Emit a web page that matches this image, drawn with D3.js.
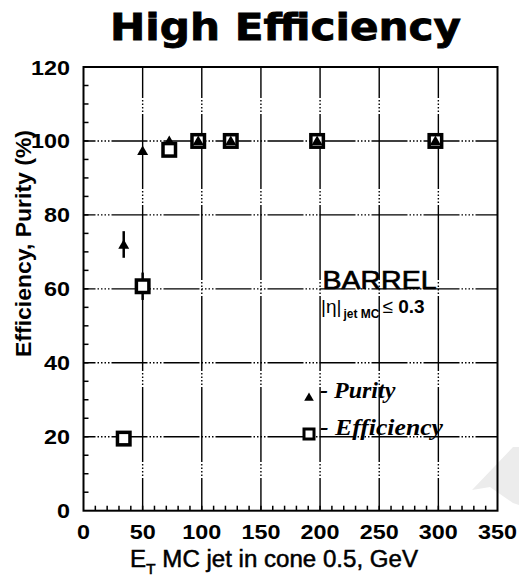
<!DOCTYPE html>
<html>
<head>
<meta charset="utf-8">
<script src="https://cdn.jsdelivr.net/npm/d3@7"></script>
<style>
  body { margin: 0; background: #fff; }
  svg { display: block; }
</style>
</head>
<body>
<svg id="chart" width="519" height="576"></svg>
<script>
// values
var energy = [34, 50, 72.5, 97, 124.5, 197.5, 297.5];
var purity = [72, 97.3, 100, 100, 100, 100, 100];
var purityErr = [3.6, 0, 0, 0, 0, 0, 0];
var efficiency = [19.5, 60.7, 97.6, 100, 100, 100, 100];
var efficiencyErr = [0, 3.7, 0, 0, 0, 0, 0];
var xTicks = [0, 50, 100, 150, 200, 250, 300, 350];
var yTicks = [0, 20, 40, 60, 80, 100, 120];

var svg = d3.select('#chart');
var x = d3.scaleLinear().domain([0, 350]).range([83.5, 497.5]);
var y = d3.scaleLinear().domain([0, 120]).range([510.7, 67]);

// faint watermark in the corner
svg.append('polygon')
  .attr('points', '472,490 513,447 519,447 519,505 513,503 490,487 478,489')
  .attr('fill', '#ececec');

// grid
var grid = svg.append('g').attr('stroke', '#000').attr('stroke-width', 1.4).attr('fill', 'none');
grid.selectAll('.hgrid').data(yTicks.filter(d => d > 0 && d < 120))
  .enter().append('line')
    .attr('x1', x(0)).attr('x2', x(350))
    .attr('y1', d => y(d)).attr('y2', d => y(d))
    .attr('stroke-dasharray', '36,2,1.5,2,1.5,2,1.5,2,1.5,2')
    .attr('stroke-dashoffset', 24);
grid.selectAll('.vgrid').data(xTicks.filter(d => d > 0 && d < 350))
  .enter().append('line')
    .attr('x1', d => x(d)).attr('x2', d => x(d))
    .attr('y1', y(120)).attr('y2', y(0))
    .attr('stroke-dasharray', '75,2,1.5,2,1.5,2,1.5,2,1.5,2')
    .attr('stroke-dashoffset', 44);

// minor ticks
var ticks = svg.append('g').attr('stroke', '#000').attr('stroke-width', 1.5);
ticks.selectAll('.ty').data(d3.range(5, 120, 5))
  .enter().append('line')
    .attr('x1', x(0)).attr('x2', x(0) + 5)
    .attr('y1', d => y(d)).attr('y2', d => y(d));
ticks.selectAll('.tx').data(d3.range(10, 350, 10))
  .enter().append('line')
    .attr('x1', d => x(d)).attr('x2', d => x(d))
    .attr('y1', y(0)).attr('y2', y(0) - 5);

// frame
svg.append('rect')
  .attr('x', x(0)).attr('y', y(120))
  .attr('width', x(350) - x(0)).attr('height', y(0) - y(120))
  .attr('fill', 'none').attr('stroke', '#000').attr('stroke-width', 2);

// tick labels
var tickFont = "'Liberation Sans', Arial, sans-serif";
svg.selectAll('.ylab').data(yTicks)
  .enter().append('text')
    .attr('x', 70).attr('y', d => y(d) + 7.5)
    .attr('text-anchor', 'end')
    .attr('font-family', tickFont).attr('font-weight', 'bold').attr('font-size', 21)
    .attr('textLength', d => String(d).length * 13)
    .attr('lengthAdjust', 'spacingAndGlyphs')
    .text(d => d);
svg.selectAll('.xlab').data(xTicks)
  .enter().append('text')
    .attr('x', d => x(d)).attr('y', 539)
    .attr('text-anchor', 'middle')
    .attr('font-family', tickFont).attr('font-weight', 'bold').attr('font-size', 21)
    .attr('textLength', d => String(d).length * 13)
    .attr('lengthAdjust', 'spacingAndGlyphs')
    .text(d => d);

// axis titles
var xt = svg.append('text')
  .attr('x', 130).attr('y', 566.5)
  .attr('font-family', tickFont).attr('font-size', 23)
  .attr('stroke', '#000').attr('stroke-width', 0.5)
  .attr('textLength', 288).attr('lengthAdjust', 'spacingAndGlyphs');
xt.append('tspan').text('E');
xt.append('tspan').attr('font-size', 15).attr('dy', 7).text('T');
xt.append('tspan').attr('dy', -7).text(' MC jet in cone 0.5, GeV');

svg.append('text')
  .attr('transform', 'translate(31,243.5) rotate(-90)')
  .attr('text-anchor', 'middle')
  .attr('font-family', tickFont).attr('font-weight', 'bold').attr('font-size', 22)
  .attr('textLength', 227).attr('lengthAdjust', 'spacingAndGlyphs')
  .text('Efficiency, Purity (%)');

// title, stretched sideways like the slide
svg.append('text')
  .attr('transform', 'translate(285.5,40) scale(1.11,1)')
  .attr('text-anchor', 'middle')
  .attr('font-family', "'DejaVu Sans', Verdana, sans-serif")
  .attr('font-weight', 'bold').attr('font-size', 38)
  .attr('stroke', '#000').attr('stroke-width', 0.8)
  .text('High Efficiency');

// error bars
var errs = svg.append('g').attr('stroke', '#000').attr('stroke-width', 2.5);
energy.forEach((e, i) => {
  if (purityErr[i] > 0)
    errs.append('line').attr('x1', x(e)).attr('x2', x(e))
      .attr('y1', y(purity[i] - purityErr[i])).attr('y2', y(purity[i] + purityErr[i]));
  if (efficiencyErr[i] > 0)
    errs.append('line').attr('x1', x(e)).attr('x2', x(e))
      .attr('y1', y(efficiency[i] - efficiencyErr[i])).attr('y2', y(efficiency[i] + efficiencyErr[i]));
});

// efficiency squares
var sq = 12.5;
svg.selectAll('.eff').data(energy)
  .enter().append('rect')
    .attr('x', (d) => x(d) - sq / 2)
    .attr('y', (d, i) => y(efficiency[i]) - sq / 2)
    .attr('width', sq).attr('height', sq)
    .attr('fill', '#fff').attr('stroke', '#000').attr('stroke-width', 3.5);

// purity triangles
var tri = d3.symbol().type(d3.symbolTriangle).size(52);
svg.selectAll('.pur').data(energy)
  .enter().append('path')
    .attr('d', tri)
    .attr('transform', (d, i) => 'translate(' + x(d) + ',' + (y(purity[i]) + 1) + ')')
    .attr('fill', '#000');

// annotations
svg.append('text')
  .attr('x', 322.5).attr('y', 288.5)
  .attr('font-family', tickFont).attr('font-size', 25)
  .attr('stroke', '#000').attr('stroke-width', 0.7)
  .attr('textLength', 114).attr('lengthAdjust', 'spacingAndGlyphs')
  .text('BARREL');

var eta = svg.append('text')
  .attr('x', 321).attr('y', 313)
  .attr('font-family', tickFont).attr('font-size', 19);
eta.append('tspan').text('|η|');
eta.append('tspan').attr('font-size', 12).attr('font-weight', 'bold').attr('dy', 5).attr('dx', 2).text('jet MC');
eta.append('tspan').attr('dy', -5).attr('dx', 3).text('≤ ');
eta.append('tspan').attr('font-weight', 'bold').text('0.3');

// legend
var legFont = "'Liberation Serif', 'Times New Roman', serif";
svg.append('path')
  .attr('d', d3.symbol().type(d3.symbolTriangle).size(40))
  .attr('transform', 'translate(309,398)')
  .attr('fill', '#000');
svg.append('rect')
  .attr('x', 304).attr('y', 429).attr('width', 10).attr('height', 10)
  .attr('fill', '#fff').attr('stroke', '#000').attr('stroke-width', 3);
svg.append('text')
  .attr('x', 320).attr('y', 398)
  .attr('font-family', legFont).attr('font-style', 'italic').attr('font-weight', 'bold')
  .attr('font-size', 24)
  .text('- Purity');
svg.append('text')
  .attr('x', 320).attr('y', 435)
  .attr('font-family', legFont).attr('font-style', 'italic').attr('font-weight', 'bold')
  .attr('font-size', 24)
  .attr('textLength', 123).attr('lengthAdjust', 'spacingAndGlyphs')
  .text('- Efficiency');
</script>
</body>
</html>
